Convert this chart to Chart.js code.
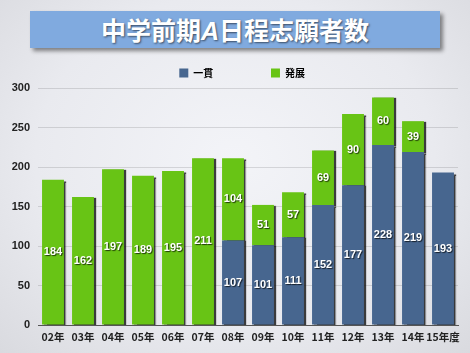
<!DOCTYPE html>
<html>
<head>
<meta charset="utf-8">
<script src="https://cdn.jsdelivr.net/npm/chart.js@4"></script>
<style>
  html, body { margin: 0; padding: 0; }
  body {
    width: 470px; height: 353px; overflow: hidden; position: relative;
    background: radial-gradient(ellipse at 50% 45%, #f3f4f8 0%, #e9eaef 60%, #d9dadf 100%);
    font-family: "Noto Sans CJK JP", "Liberation Sans", sans-serif;
  }
  #banner {
    position: absolute; left: 30px; top: 11px; width: 410px; height: 37px;
    background: #80aadf;
    box-shadow: 3px 3px 4px rgba(0,0,0,0.45);
    color: #fff; font-weight: bold; font-size: 25px; line-height: 37px;
    text-align: center; letter-spacing: 0px;
    text-shadow: 1px 1px 2px rgba(0,0,0,0.55);
  }
  #banner i { font-family: "Liberation Sans", sans-serif; }
  #wrap { position: absolute; left: 0; top: 0; width: 470px; height: 353px; }
</style>
</head>
<body>
<div id="banner">中学前期<i>A</i>日程志願者数</div>
<div id="wrap"><canvas id="myChart" width="470" height="353"></canvas></div>
<script>
const years = ['02年', '03年', '04年', '05年', '06年', '07年', '08年', '09年', '10年', '11年', '12年', '13年', '14年', '15年度'];
const ikkan = [0, 0, 0, 0, 0, 0, 107, 101, 111, 152, 177, 228, 219, 193];
const hatten = [184, 162, 197, 189, 195, 211, 104, 51, 57, 69, 90, 60, 39, 0];
const yTicks = [0, 50, 100, 150, 200, 250, 300];

const blue = '#47668f';
const green = '#68c415';
// extra room after each legend entry
const legendGap = [' '.repeat(21), ''];

const ctx = document.getElementById('myChart');

// shadow behind the bars
const barShadow = {
  id: 'barShadow',
  beforeDatasetsDraw(chart) {
    chart.ctx.save();
    chart.ctx.shadowColor = 'rgba(0,0,0,0.75)';
    chart.ctx.shadowOffsetX = 2;
    chart.ctx.shadowOffsetY = 1;
    chart.ctx.shadowBlur = 1;
  },
  afterDatasetsDraw(chart) {
    chart.ctx.restore();
  }
};

// numbers in the middle of each piece
const valueLabels = {
  id: 'valueLabels',
  afterDatasetsDraw(chart) {
    const c = chart.ctx;
    c.save();
    c.font = 'bold 11px "Liberation Sans", sans-serif';
    c.textAlign = 'center';
    c.textBaseline = 'middle';
    c.fillStyle = '#fff';
    c.shadowColor = 'rgba(0,0,0,0.7)';
    c.shadowOffsetX = 1;
    c.shadowOffsetY = 1;
    c.shadowBlur = 1;
    chart.data.datasets.forEach((ds, i) => {
      chart.getDatasetMeta(i).data.forEach((bar, j) => {
        if (!ds.data[j]) return;
        c.fillText(ds.data[j], bar.x, (bar.y + bar.base) / 2);
      });
    });
    c.restore();
  }
};

new Chart(ctx, {
  type: 'bar',
  data: {
    labels: years,
    datasets: [{
      label: '一貫',
      data: ikkan,
      backgroundColor: blue,
      borderWidth: 0
    }, {
      label: '発展',
      data: hatten,
      backgroundColor: green,
      borderWidth: 0
    }]
  },
  options: {
    responsive: false,
    animation: false,
    devicePixelRatio: 1,
    layout: { padding: { top: 58, right: 12, left: 0, bottom: 0 } },
    datasets: { bar: { categoryPercentage: 1, barPercentage: 0.73 } },
    plugins: {
      legend: {
        display: true,
        labels: {
          boxWidth: 9,
          boxHeight: 9,
          padding: 10,
          color: '#222',
          font: { size: 10, weight: 'bold', family: '"Noto Sans CJK JP", sans-serif' },
          generateLabels(chart) {
            // an empty first entry nudges the legend to the right
            const spacer = { text: ' ', fillStyle: 'rgba(0,0,0,0)', strokeStyle: 'rgba(0,0,0,0)', lineWidth: 0 };
            return [spacer].concat(chart.data.datasets.map((ds, i) => ({
              text: ds.label + legendGap[i],
              fillStyle: ds.backgroundColor,
              strokeStyle: ds.backgroundColor,
              lineWidth: 0,
              datasetIndex: i
            })));
          }
        }
      },
      tooltip: { enabled: false }
    },
    scales: {
      x: {
        stacked: true,
        grid: { display: false, drawTicks: false },
        border: { color: '#555', width: 1 },
        ticks: {
          padding: 6,
          color: '#222',
          autoSkip: false,
          maxRotation: 0,
          minRotation: 0,
          font: { size: 10.5, weight: 'bold', family: '"Noto Sans CJK JP", sans-serif' }
        },
        afterFit(scale) { scale.height = 28; }
      },
      y: {
        stacked: true,
        min: 0,
        max: 300,
        afterBuildTicks(scale) { scale.ticks = yTicks.map(v => ({ value: v })); },
        grid: { color: 'rgba(0,0,0,0.12)', drawTicks: false },
        border: { display: false },
        ticks: {
          padding: 8,
          color: '#222',
          font: { size: 11, weight: 'bold', family: '"Liberation Sans", sans-serif' }
        },
        afterFit(scale) { scale.width = 38; }
      }
    }
  },
  plugins: [barShadow, valueLabels]
});
</script>
</body>
</html>
